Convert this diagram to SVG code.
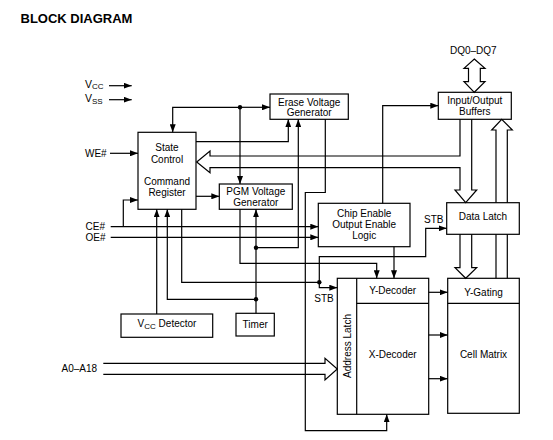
<svg xmlns="http://www.w3.org/2000/svg" width="553" height="440" viewBox="0 0 553 440">
<defs>
<marker id="ah" markerUnits="userSpaceOnUse" markerWidth="8" markerHeight="6" refX="8" refY="3" orient="auto">
<path d="M0,0 L8,3 L0,6 z" fill="#000"/>
</marker>
</defs>
<style>
text{font-family:"Liberation Sans",Arial,sans-serif;font-size:10px;fill:#000}
.t{font-size:13px;font-weight:bold}
.c{text-anchor:middle}
.box{fill:#fff;stroke:#000;stroke-width:1.2}
.ln{fill:none;stroke:#000;stroke-width:1.2}
.ar{fill:none;stroke:#000;stroke-width:1.2;marker-end:url(#ah)}
.dot{fill:#000}
</style>
<rect width="553" height="440" fill="#fff"/>
<text class="t" x="20.5" y="22.7">BLOCK DIAGRAM</text>

<g id="labels">
<text x="85" y="87.7" style="font-size:10.5px">V<tspan style="font-size:8px" dy="1.5">CC</tspan></text>
<text x="85" y="102.3" style="font-size:10.5px">V<tspan style="font-size:8px" dy="1.5">SS</tspan></text>
<text x="85" y="156.8">WE#</text>
<text x="85.5" y="230.2">CE#</text>
<text x="85.5" y="240.8">OE#</text>
<text x="61.5" y="372">A0–A18</text>
<text x="450" y="54.2">DQ0–DQ7</text>
<text x="314.3" y="301.5">STB</text>
<text x="424" y="222.5">STB</text>
</g>

<g id="state-control">
<rect class="box" x="138" y="132.3" width="58" height="77"/>
<text class="c" x="167" y="151.2">State</text>
<text class="c" x="167" y="162.5">Control</text>
<text class="c" x="167" y="185.2">Command</text>
<text class="c" x="167" y="196">Register</text>
</g>
<g id="erase-voltage-generator">
<rect class="box" x="270" y="94" width="78.3" height="25.3"/>
<text class="c" x="309.2" y="105.5">Erase Voltage</text>
<text class="c" x="309.2" y="115.8">Generator</text>
</g>
<g id="pgm-voltage-generator">
<rect class="box" x="219.3" y="184" width="73" height="25.3"/>
<text class="c" x="255.8" y="195.2">PGM Voltage</text>
<text class="c" x="255.8" y="205.6">Generator</text>
</g>
<g id="chip-enable-logic">
<rect class="box" x="318.3" y="203.3" width="91.7" height="43.4"/>
<text class="c" x="364.2" y="217.2">Chip Enable</text>
<text class="c" x="364.2" y="228.2">Output Enable</text>
<text class="c" x="364.2" y="239">Logic</text>
</g>
<g id="io-buffers">
<rect class="box" x="438.3" y="92.3" width="73" height="27"/>
<text class="c" x="474.8" y="103.8">Input/Output</text>
<text class="c" x="474.8" y="114.8">Buffers</text>
</g>
<g id="data-latch">
<rect class="box" x="446.7" y="202.7" width="72.6" height="31.6"/>
<text class="c" x="483" y="220.2">Data Latch</text>
</g>
<g id="vcc-detector">
<rect class="box" x="121" y="314" width="91.7" height="23.3"/>
<text class="c" x="167" y="327.3">V<tspan style="font-size:8px" dy="1.5">CC</tspan><tspan dy="-1.5"> Detector</tspan></text>
</g>
<g id="timer">
<rect class="box" x="236" y="313.3" width="38.3" height="22.7"/>
<text class="c" x="255.2" y="327.5">Timer</text>
</g>
<g id="address-latch-decoders">
<rect class="box" x="337.3" y="278.3" width="91.4" height="136"/>
<line class="ln" x1="356.7" y1="278.3" x2="356.7" y2="414.3"/>
<line class="ln" x1="356.7" y1="303.3" x2="428.7" y2="303.3"/>
<text transform="translate(351.4,346) rotate(-90)" class="c" x="0" y="0">Address Latch</text>
<text class="c" x="392.7" y="294.3">Y-Decoder</text>
<text class="c" x="392.7" y="358.3">X-Decoder</text>
</g>
<g id="y-gating-cell-matrix">
<rect class="box" x="447.7" y="278.3" width="71.6" height="135"/>
<line class="ln" x1="447.7" y1="303.3" x2="519.3" y2="303.3"/>
<text class="c" x="483.5" y="295.5">Y-Gating</text>
<text class="c" x="483.5" y="358.3">Cell Matrix</text>
</g>

<g id="connectors">
<line class="ar" x1="109" y1="85.7" x2="131.7" y2="85.7"/>
<line class="ar" x1="109" y1="99.7" x2="131.7" y2="99.7"/>
<line class="ar" x1="110" y1="153.3" x2="138" y2="153.3"/>
<line class="ar" x1="110.7" y1="226.7" x2="318.3" y2="226.7"/>
<line class="ar" x1="110.7" y1="237.3" x2="318.3" y2="237.3"/>
<path class="ar" d="M123.3,226.7 V200 H138"/>
<line class="ar" x1="196" y1="196.3" x2="219.3" y2="196.3"/>
<path class="ar" d="M240,107.3 H172.7 V132.3"/>
<path class="ar" d="M240,107.3 H270"/>
<path class="ar" d="M240,107.3 V184"/>
<circle class="dot" cx="240" cy="107.3" r="2.2"/>
<path class="ar" d="M196,141.7 H288.3 V119.3"/>
<path class="ar" d="M256,313.3 V209.3"/>
<path class="ar" d="M256,247.7 H298.3 V119.3"/>
<path class="ar" d="M256,299.3 H167.3 V209.3"/>
<circle class="dot" cx="256" cy="247.7" r="2.2"/>
<circle class="dot" cx="256" cy="299.3" r="2.2"/>
<path class="ar" d="M156.7,314 V209.3"/>
<path class="ln" d="M181.7,209.3 V282.3 H319.3"/>
<path class="ar" d="M319.3,282.3 V287.7 H337.3"/>
<path class="ar" d="M319.3,282.3 V256.7 H425.7 V228.3 H446.7"/>
<circle class="dot" cx="319.3" cy="282.3" r="2.2"/>
<path class="ar" d="M240,209.3 V263.3 H376.7 V278.3"/>
<path class="ar" d="M394,246.7 V278.3"/>
<path class="ar" d="M382.7,203.3 V105.7 H438.3"/>
<path class="ar" d="M325.3,119.3 V192.5 H305.3 V430.7 H386.7 V414.3"/>
<line class="ar" x1="428.7" y1="292.3" x2="447.7" y2="292.3"/>
<line class="ar" x1="428.7" y1="335" x2="447.7" y2="335"/>
<line class="ar" x1="428.7" y1="378.7" x2="447.7" y2="378.7"/>
<path class="ln" d="M471.7,119.3 V190 H476.7 L465.7,202.7 L455,190 H460 V167.7 H210 V172.7 L196.7,162 L210,151 V156 H460 V119.3"/>
<path class="ln" d="M474.3,59 L485,68.3 H480.3 V81.7 H485 L474.3,92.3 L464,81.7 H468.5 V68.3 H464 Z"/>
<path class="ln" d="M496,202.7 V130 H491.7 L501.7,119.3 L512.3,130 H507.3 V202.7"/>
<path class="ln" d="M496,234.3 V278.3 M507.3,234.3 V278.3"/>
<path class="ln" d="M460,234.3 V267.7 H455 L465.7,278.3 L476.7,267.7 H471.7 V234.3"/>
<path class="ln" d="M103.3,363.3 H325 V358.3 L337.3,369 L325,380 V374.3 H103.3"/>
</g>
</svg>
